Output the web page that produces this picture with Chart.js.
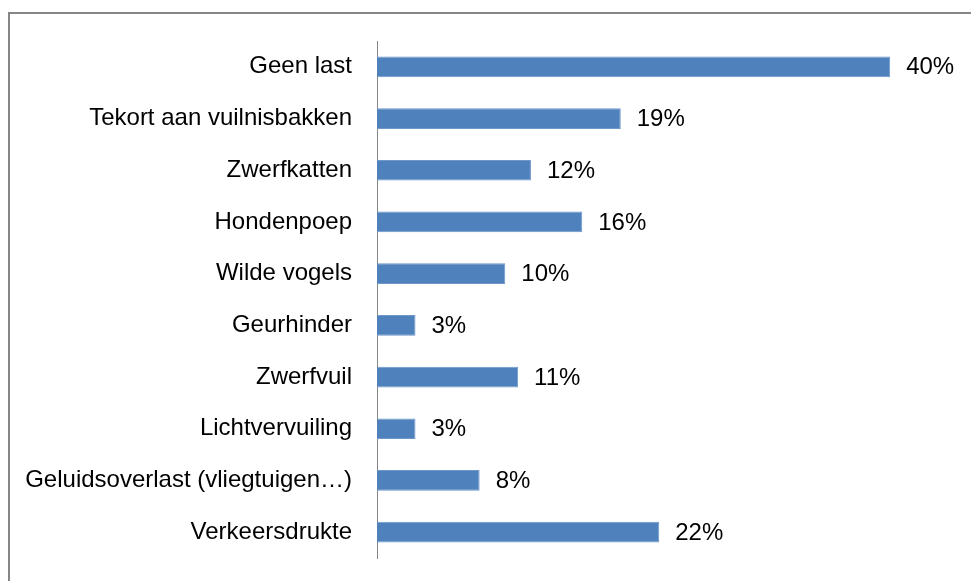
<!doctype html>
<html lang="nl">
<head>
    <meta charset="UTF-8">
    <title>Overlast</title>
    <script src="https://cdn.jsdelivr.net/npm/chart.js"></script>
    <style>
        body { margin: 0; background: #fff; }
        #frame { position: absolute; left: 8px; top: 12px; width: 980px; height: 600px; border: 2px solid #868686; }
        #wrap { position: absolute; left: 0; top: 0; width: 971px; height: 581px; }
    </style>
</head>
<body>
<div id="frame"></div>
<div id="wrap"><canvas id="myChart"></canvas></div>

<script>
    var categories = ['Geen last', 'Tekort aan vuilnisbakken', 'Zwerfkatten', 'Hondenpoep', 'Wilde vogels',
        'Geurhinder', 'Zwerfvuil', 'Lichtvervuiling', 'Geluidsoverlast (vliegtuigen…)', 'Verkeersdrukte'];
    var percentages = [40, 19, 12, 16, 10, 3, 11, 3, 8, 22];

    var labelFont = '24px "Liberation Sans", Arial, sans-serif';

    // percentage labels right of each bar
    var valueLabels = {
        id: 'valueLabels',
        afterDatasetsDraw: function (chart) {
            var c = chart.ctx;
            var meta = chart.getDatasetMeta(0);
            c.save();
            c.font = labelFont;
            c.fillStyle = '#000';
            c.textBaseline = 'middle';
            meta.data.forEach(function (bar, i) {
                c.fillText(percentages[i] + '%', bar.x + 16, bar.y + 1);
            });
            c.restore();
        }
    };

    var ctx = document.getElementById('myChart');
    var myChart = new Chart(ctx, {
        type: 'bar',
        data: {
            labels: categories,
            datasets: [{
                data: percentages,
                backgroundColor: '#4F81BD',
                borderColor: '#6E97CA',
                borderWidth: 1,
                categoryPercentage: 1,
                barPercentage: 0.4
            }]
        },
        options: {
            indexAxis: 'y',
            responsive: true,
            maintainAspectRatio: false,
            animation: false,
            layout: { padding: { top: 41, bottom: 23, left: 0, right: 0 } },
            plugins: { legend: { display: false }, tooltip: { enabled: false } },
            scales: {
                x: {
                    display: false,
                    min: 0,
                    max: 46.3
                },
                y: {
                    grid: { display: false, drawTicks: false },
                    border: { display: true, color: '#868686', width: 1 },
                    ticks: {
                        color: '#000',
                        padding: 25,
                        font: { family: '"Liberation Sans", Arial, sans-serif', size: 24 }
                    },
                    afterFit: function (scale) {
                        scale.width = 377;
                        scale.paddingTop = 0;
                        scale.paddingBottom = 0;
                    }
                }
            }
        },
        plugins: [valueLabels]
    });
</script>
</body>
</html>
